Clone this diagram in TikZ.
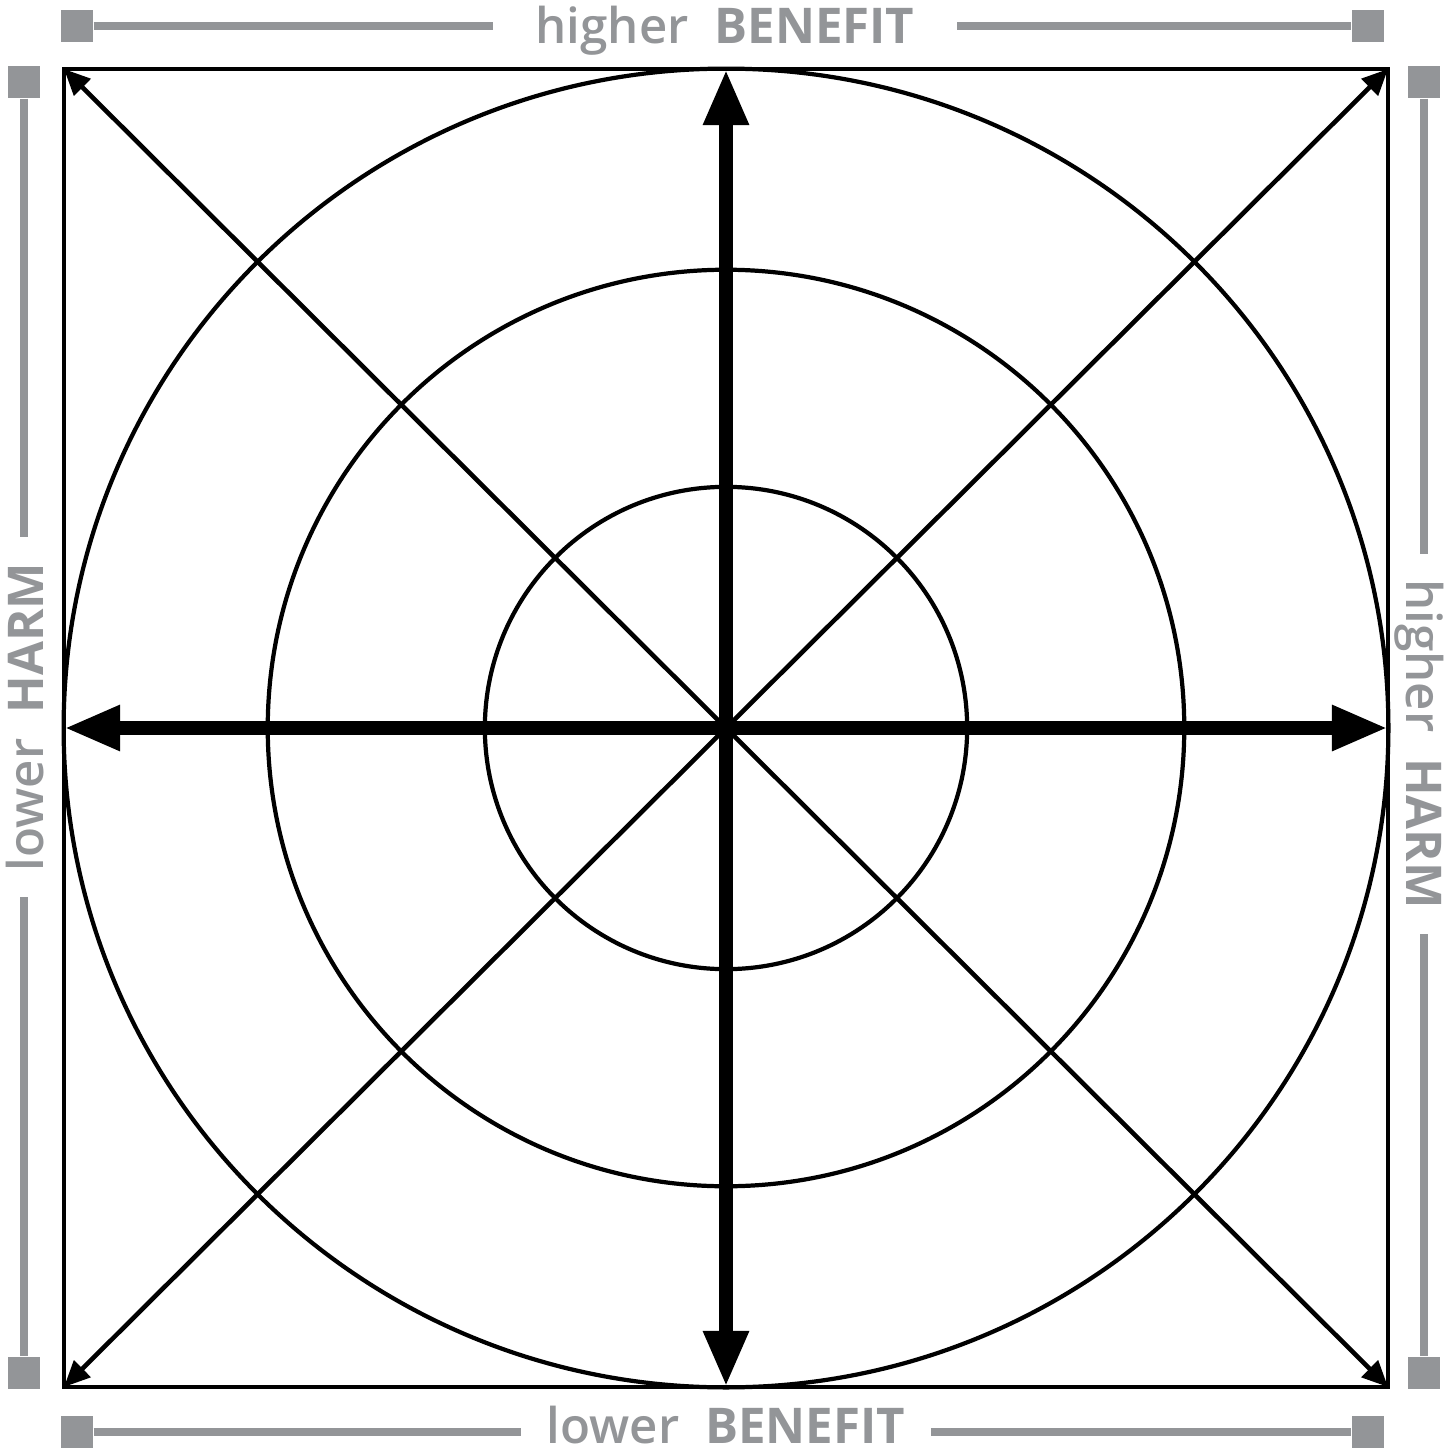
\documentclass[tikz,border=0pt]{standalone}
\usepackage{fontspec}
\setmainfont{Open Sans}
\IfFontExistsTF{Open Sans SemiBold}
  {\newfontfamily\semifont{Open Sans SemiBold}}
  {\IfFontExistsTF{Open Sans Semibold}
    {\newfontfamily\semifont{Open Sans Semibold}}
    {\newfontfamily\semifont{Open Sans}[FakeBold=2.5]}}
\usetikzlibrary{arrows.meta}
\definecolor{bargray}{RGB}{147,149,152}

\begin{document}
\begin{tikzpicture}[
  x=0.01cm, y=-0.01cm,
  every node/.style={font=\fontsize{14pt}{16pt}\selectfont},
  endsq/.style={fill=bargray, minimum size=0.32cm, inner sep=0pt},
  bar/.style={draw=bargray, line width=2.3pt},
  lbl/.style={text=bargray, anchor=base, inner xsep=0.25cm, inner ysep=0pt},
  ring/.style={line width=1.2pt},
  axis/.style={line width=4.2pt, {Triangle[length=5.6mm,width=4.2mm]}-{Triangle[length=5.6mm,width=4.2mm]}},
  diag/.style={line width=1.3pt, {Triangle[length=2.6mm,width=2.3mm]}-{Triangle[length=2.6mm,width=2.3mm]}}
]
\useasboundingbox (0,0) rectangle (1450,1452);

% Frame points
\coordinate (c) at (726,728);
\coordinate (nw) at (64,69);
\coordinate (ne) at (1388,69);
\coordinate (sw) at (64,1387);
\coordinate (se) at (1388,1387);
\coordinate (n) at (726,69);
\coordinate (s) at (726,1387);
\coordinate (w) at (64,728);
\coordinate (e) at (1388,728);

% Rings
\draw[ring] (c) ellipse [x radius=6.62cm, y radius=6.59cm];
\draw[ring] (c) circle [radius=4.58cm];
\draw[ring] (c) circle [radius=2.41cm];

% Diagonals
\draw[diag] (nw) -- (se);
\draw[diag] (ne) -- (sw);

% Axes
\draw[axis] (n) -- (s);
\draw[axis] (w) -- (e);

% Frame
\draw[line width=1.4pt] (nw) rectangle (se);

% Top scale
\node[endsq] (tl) at (77,26) {};
\node[endsq] (tr) at (1368,26) {};
\node[lbl, inner xsep=0.42cm] (toptxt) at (725,44) {{\semifont higher}\ \ \textbf{BENEFIT}};
\draw[bar] (tl) -- (tl -| toptxt.west);
\draw[bar] (toptxt.east |- tr) -- (tr);

% Bottom scale
\node[endsq] (bl) at (77,1432) {};
\node[endsq] (br) at (1368,1432) {};
\node[lbl] (bottxt) at (726,1443) {{\semifont lower}\ \ \textbf{BENEFIT}};
\draw[bar] (bl) -- (bl -| bottxt.west);
\draw[bar] (bottxt.east |- br) -- (br);

% Left scale
\node[endsq] (lt) at (24,82) {};
\node[endsq] (lb) at (24,1373) {};
\node[lbl, rotate=90] (lefttxt) at (43,717) {{\semifont lower}\ \ \textbf{HARM}};
\draw[bar] (lt) -- (lt |- lefttxt.east);
\draw[bar] (lt |- lefttxt.west) -- (lb);

% Right scale
\node[endsq] (rt) at (1424,82) {};
\node[endsq] (rb) at (1424,1373) {};
\node[lbl, rotate=-90] (righttxt) at (1406,744) {{\semifont higher}\ \ \textbf{HARM}};
\draw[bar] (rt) -- (rt |- righttxt.west);
\draw[bar] (rt |- righttxt.east) -- (rb);

\end{tikzpicture}
\end{document}
